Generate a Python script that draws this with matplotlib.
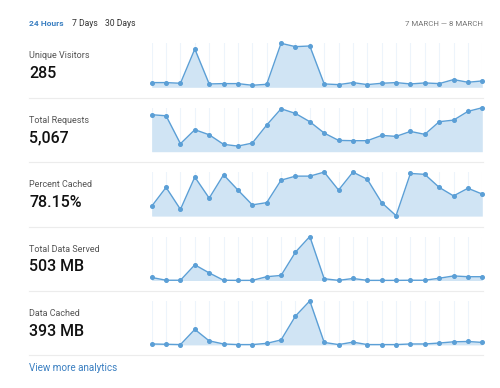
import matplotlib
matplotlib.use('Agg')
import matplotlib.pyplot as plt

# Hourly series, 24 points each
hours = list(range(24))
unique_visitors = [14, 14, 12, 114, 10, 11, 11, 6, 9, 131, 121, 123,
                   10, 8, 14, 8, 12, 14, 10, 13, 11, 23, 15, 19]
total_requests = [343, 333, 74, 204, 157, 68, 52, 80, 247, 398, 355, 278,
                  173, 105, 102, 102, 151, 142, 188, 161, 278, 293, 374, 408]
percent_cached = [22, 64, 15, 87, 40, 92, 58, 25, 30, 80, 89, 89,
                  98, 58, 98, 82, 30, 1, 95, 93, 64, 45, 62, 49]
data_served = [12, 1, 1, 62, 30, 1, 0.5, 0.5, 15, 20, 112, 174,
               7, 0.5, 8, 0.5, 0.5, 0.5, 1, 1, 9, 18, 15, 15]
data_cached = [3, 2, 1, 50, 13, 3, 1, 1, 5, 16, 93, 142,
               8, 1, 9, 1, 1, 1, 3, 3, 6, 10, 11, 8]

labels = ['Unique Visitors', 'Total Requests', 'Percent Cached',
          'Total Data Served', 'Data Cached']
totals = ['285', '5,067', '78.15%', '503 MB', '393 MB']
series = [unique_visitors, total_requests, percent_cached, data_served, data_cached]

tabs = ['24 Hours', '7 Days', '30 Days']
date_range = '7 MARCH \u2014 8 MARCH'

LINE = '#5b9fd6'
FILL = '#d0e4f4'
GRID = '#edf4fb'
SEP = '#ececec'
BLUE = '#3a7fc1'

plt.rcParams['font.family'] = ['Roboto', 'DejaVu Sans']

W, H = 500, 388
fig = plt.figure(figsize=(5, 3.88), dpi=100)

def fy(y):
    return 1 - y / H

# header
fig.text(29 / W, fy(23.5), tabs[0], color=BLUE, fontsize=6, fontweight='bold', va='center')
fig.text(72 / W, fy(23.5), tabs[1], color='#333333', fontsize=6.2, va='center')
fig.text(105 / W, fy(23.5), tabs[2], color='#333333', fontsize=6.2, va='center')
fig.text(483 / W, fy(23.5), date_range, color='#777777', fontsize=5.7, va='center', ha='right')

row_h = 64.4
for i, (lab, tot, vals) in enumerate(zip(labels, totals, series)):
    top = 43.3 + i * row_h
    base = top + 44
    ax = fig.add_axes([151.7 / W, fy(base), (482.3 - 151.7) / W, 44 / H])
    for h in hours:
        ax.axvline(h, color=GRID, lw=0.8, zorder=0)
    ax.fill_between(hours, vals, 0, color=FILL, lw=0, zorder=1)
    ax.plot(hours, vals, color=LINE, lw=1.0, marker='o', ms=2.6, zorder=2, clip_on=False)
    ax.set_xlim(0, 23)
    ax.set_ylim(0, max(vals))
    ax.axis('off')

    fig.text(29 / W, fy(56 + i * row_h), lab, color='#555555', fontsize=6.5, va='center')
    fig.text(29 / W, fy(73.5 + i * row_h), tot, color='#111111', fontsize=11.5,
             fontweight='medium', va='center')
    # separator line under each row
    sy = fy(97.7 + i * row_h)
    fig.add_artist(plt.Line2D([29 / W, 483 / W], [sy, sy], color=SEP, lw=0.8))

fig.text(29 / W, fy(368), 'View more analytics', color=BLUE, fontsize=7.1, va='center')

fig.savefig('out.png', dpi=100, facecolor='white')
